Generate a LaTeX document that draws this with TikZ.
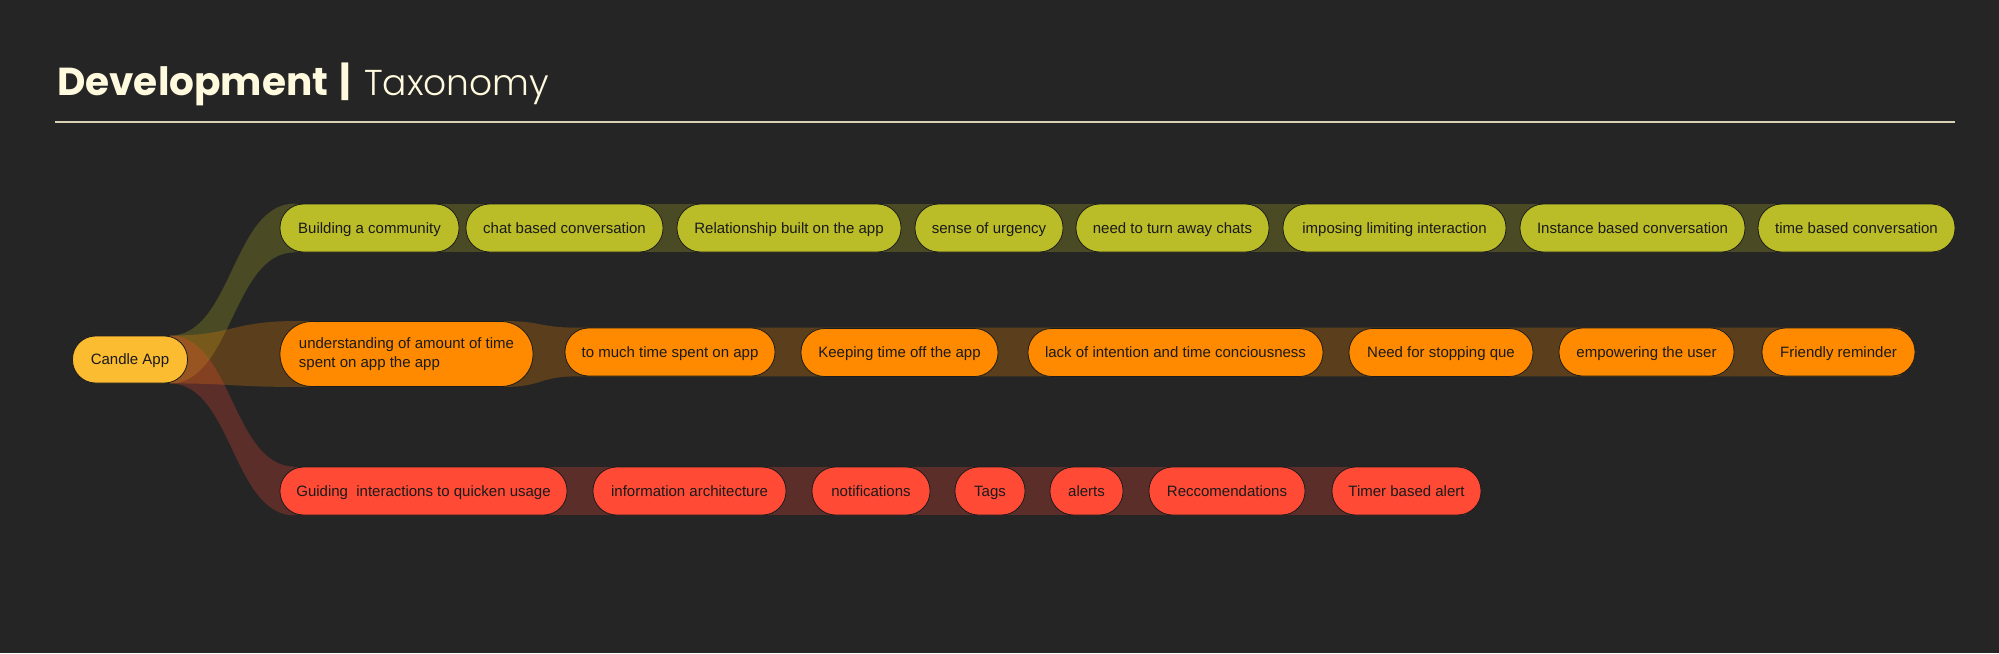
\documentclass[tikz,border=0pt]{standalone}
\usepackage{fontspec}
\setmainfont{Liberation Sans}
\newfontfamily\titlefont{Poppins}
\newfontfamily\titlelight{Poppins Light}
\usetikzlibrary{calc}
\definecolor{bgc}{HTML}{252525}
\definecolor{rowone}{HTML}{BABC28}
\definecolor{rowtwo}{HTML}{FF8A00}
\definecolor{rowthree}{HTML}{FF4A36}
\definecolor{candle}{HTML}{FBBC32}
\definecolor{cream}{HTML}{FFF9DD}
\definecolor{rulec}{HTML}{D9D2B4}
\definecolor{nodeedge}{HTML}{1C1C1C}
\definecolor{nodetext}{HTML}{1A1A1A}
\pgfdeclarelayer{back}
\pgfdeclarelayer{bands}
\pgfsetlayers{back,bands,main}
\begin{document}
\begin{tikzpicture}[x=1pt,y=-1pt,
  pillbase/.style={rectangle, rounded corners=23.5pt, draw=nodeedge, line width=0.8pt,
    minimum height=48pt, inner sep=0pt, text=nodetext,
    font=\fontsize{15}{18.5}\selectfont},
  pill/.style={pillbase, text height=12pt, text depth=1.3pt},
  rA/.style={pill, fill=rowone},
  rB/.style={pill, fill=rowtwo},
  rC/.style={pill, fill=rowthree},
  ribbonA/.style={fill=rowone, fill opacity=0.25},
  ribbonB/.style={fill=rowtwo, fill opacity=0.25},
  ribbonC/.style={fill=rowthree, fill opacity=0.25},
  titletext/.style={anchor=base west, inner sep=0pt, text=cream}
]
\begin{pgfonlayer}{back}
\fill[bgc] (0,0) rectangle (1999,653);
\end{pgfonlayer}
\useasboundingbox (0,0) rectangle (1999,653);

% title
\node[titletext, font=\titlefont\bfseries\fontsize{39}{39}\selectfont] (tdev) at (57,95) {Development};
\node[anchor=base, inner sep=0pt, text=cream, font=\titlefont\bfseries\fontsize{40}{40}\selectfont] (tbar) at (345,95) {|};
\node[titletext, font=\titlelight\fontsize{36}{36}\selectfont] (ttax) at (364,95) {Taxonomy};
\coordinate (ls) at (55,122);
\coordinate (le) at (1955,122);
\draw[rulec, line width=1.3pt] (ls) -- (le);

% root
\node[pill, fill=candle, rounded corners=23pt, minimum height=47pt, minimum width=115pt] (c) at (130,359.5) {Candle App};

% row 1
\node[rA, minimum width=179pt] (a1) at (369.5,228) {Building a community};
\node[rA, minimum width=197pt] (a2) at (564.5,228) {chat based conversation};
\node[rA, minimum width=224pt] (a3) at (789,228) {Relationship built on the app};
\node[rA, minimum width=148pt] (a4) at (989,228) {sense of urgency};
\node[rA, minimum width=193pt] (a5) at (1172.5,228) {need to turn away chats};
\node[rA, minimum width=223pt] (a6) at (1394.5,228) {imposing limiting interaction};
\node[rA, minimum width=225pt] (a7) at (1632.5,228) {Instance based conversation};
\node[rA, minimum width=197pt] (a8) at (1856.5,228) {time based conversation};

% row 2
\node[pillbase, fill=rowtwo, minimum width=253pt, minimum height=65pt, rounded corners=32pt, align=left] (b1) at (406.5,354) {understanding of amount of time\\spent on app the app};
\node[rB, minimum width=210pt] (b2) at (670,352) {to much time spent on app};
\node[rB, minimum width=197pt] (b3) at (899.5,352.5) {Keeping time off the app};
\node[rB, minimum width=295pt] (b4) at (1175.5,352.5) {lack of intention and time conciousness};
\node[rB, minimum width=184pt] (b5) at (1441,352.5) {Need for stopping que};
\node[rB, minimum width=175pt] (b6) at (1646.5,352) {empowering the user};
\node[rB, minimum width=153pt] (b7) at (1838.5,352) {Friendly reminder};

% row 3
\node[rC, minimum width=287pt] (d1) at (423.5,491) {Guiding\ \ interactions to quicken usage};
\node[rC, minimum width=193pt] (d2) at (689.5,491) {information architecture};
\node[rC, minimum width=118pt] (d3) at (871,491) {notifications};
\node[rC, minimum width=70pt] (d4) at (990,491) {Tags};
\node[rC, minimum width=73pt] (d5) at (1086.5,491) {alerts};
\node[rC, minimum width=156pt] (d6) at (1227,491) {Reccomendations};
\node[rC, minimum width=149pt] (d7) at (1406.5,491) {Timer based alert};

\begin{pgfonlayer}{bands}
% ribbons from root
\coordinate (cT) at ($(c.north east)+(-18,0)$);
\coordinate (cB) at ($(c.south east)+(-18,0)$);
\foreach \n/\s in {a1/ribbonA, b1/ribbonB, d1/ribbonC}{
  \path[\s] (cT) .. controls ($(cT)+(62,0)$) and ($(\n.north west)+(-47,0)$) .. ($(\n.north west)+(15,0)$)
     -- ($(\n.south west)+(15,0)$)
     .. controls ($(\n.south west)+(-47,0)$) and ($(cB)+(62,0)$) .. (cB) -- cycle;
}
% bands
\path[ribbonA] ($(a1.north west)+(15,0)$) rectangle ($(a8.south east)+(-15,0)$);
\path[ribbonC] ($(d1.north west)+(15,0)$) rectangle ($(d7.south east)+(-15,0)$);
\path[ribbonB] ($(b1.north west)+(15,0)$) -- ($(b1.north east)+(-28,0)$)
   .. controls ($(b1.north east)+(8,0)$) and ($(b2.north west)+(-25,0)$) .. ($(b2.north west)+(11,0)$)
   -- ($(b7.north east)+(-15,0)$) -- ($(b7.south east)+(-15,0)$) -- ($(b2.south west)+(11,0)$)
   .. controls ($(b2.south west)+(-25,0)$) and ($(b1.south east)+(8,0)$) .. ($(b1.south east)+(-28,0)$)
   -- ($(b1.south west)+(15,0)$) -- cycle;
\end{pgfonlayer}
\end{tikzpicture}
\end{document}
